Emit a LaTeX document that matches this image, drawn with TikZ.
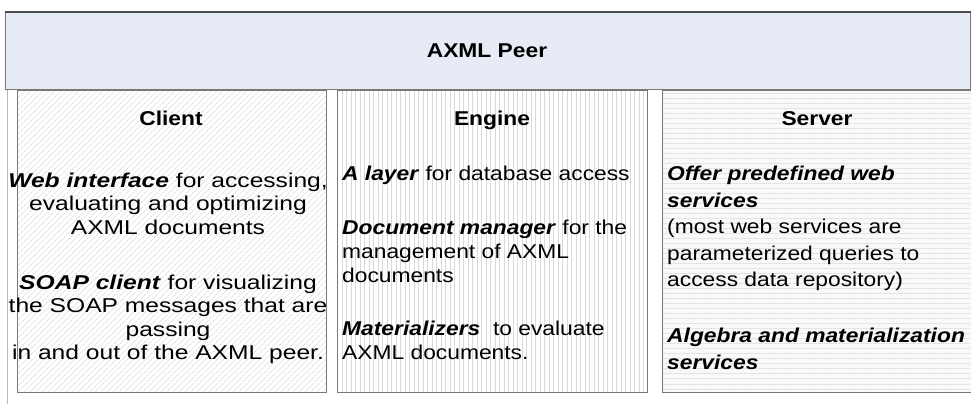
\documentclass[tikz,border=0pt]{standalone}
\usepackage{fontspec}
\setmainfont{Liberation Sans}[FakeStretch=1.14]
\newfontfamily\clientfont{Liberation Sans}[FakeStretch=1.23]
\usepackage{xcolor}
\usetikzlibrary{patterns.meta}
\definecolor{peerblue}{RGB}{230,235,246}
\definecolor{rulegray}{RGB}{120,120,120}
\newcommand{\kw}[1]{\textbf{\textit{#1}}}

\begin{document}
\begin{tikzpicture}[x=1pt,y=-1pt,
  panel/.style={draw=rulegray,line width=1.2pt,anchor=north west,inner sep=0pt},
  body/.style={font=\fontsize{20}{24}\selectfont,inner sep=0pt},
  head/.style={font=\fontsize{20}{24}\selectfont\bfseries,inner sep=0pt,anchor=base}]
\useasboundingbox (0,0) rectangle (971,404);
\fill[white] (0,0) rectangle (971,404);
\coordinate (rimtop) at (7,89);
\coordinate (rimbot) at (7,404);
\draw[gray!55,line width=0.9pt] (rimtop)--(rimbot);
\node[panel,fill=peerblue,minimum width=965pt,minimum height=77pt] (peer) at (5,12) {};
\draw[gray!60!black,line width=1.6pt] (peer.north west)--(peer.north east);
\node[head] at (487,58) {AXML Peer};
\node[panel,preaction={fill=white},pattern={Lines[angle=45,distance=4pt,line width=0.6pt]},pattern color=gray!35,minimum width=309pt,minimum height=302pt] (client) at (17,90) {};
\node[panel,preaction={fill=white},pattern={Lines[angle=90,distance=4.5pt,line width=0.8pt]},pattern color=gray!30,minimum width=310pt,minimum height=302pt] (engine) at (337,90) {};
\node[panel,preaction={fill=gray!5},pattern={Lines[angle=0,distance=5pt,line width=1pt]},pattern color=gray!22,minimum width=312pt,minimum height=302pt] (server) at (662,90) {};
\node[head] (clienthead) at (171,125) {Client};
\node[head] (enginehead) at (492,125) {Engine};
\node[head] (serverhead) at (817,125) {Server};
\node[body,align=center,anchor=north,font=\clientfont\fontsize{20}{23.5}\selectfont] (client1) at (168,172.5) {\kw{Web interface} for accessing,\\evaluating and optimizing\\AXML documents};
\node[body,align=center,anchor=north,font=\clientfont\fontsize{20}{23.5}\selectfont] (client2) at (168,274.5) {\kw{SOAP client} for visualizing\\the SOAP messages that are\\passing\\in and out of the AXML peer.};
\node[body,align=left,anchor=north west] (engine1) at (342,166) {\kw{A layer} for database access};
\node[body,align=left,anchor=north west] (engine2) at (342,220) {\kw{Document manager} for the\\management of AXML\\documents};
\node[body,align=left,anchor=north west] (engine3) at (342,321) {\kw{Materializers}\ \ to evaluate\\AXML documents.};
\node[body,align=left,anchor=north west,font=\fontsize{20}{26.5}\selectfont] (server1) at (667,166) {\kw{Offer predefined web}\\\kw{services}\\(most web services are\\parameterized queries to\\access data repository)};
\node[body,align=left,anchor=north west,font=\fontsize{20}{26.5}\selectfont] (server2) at (667,328) {\kw{Algebra and materialization}\\\kw{services}};
\end{tikzpicture}
\end{document}
